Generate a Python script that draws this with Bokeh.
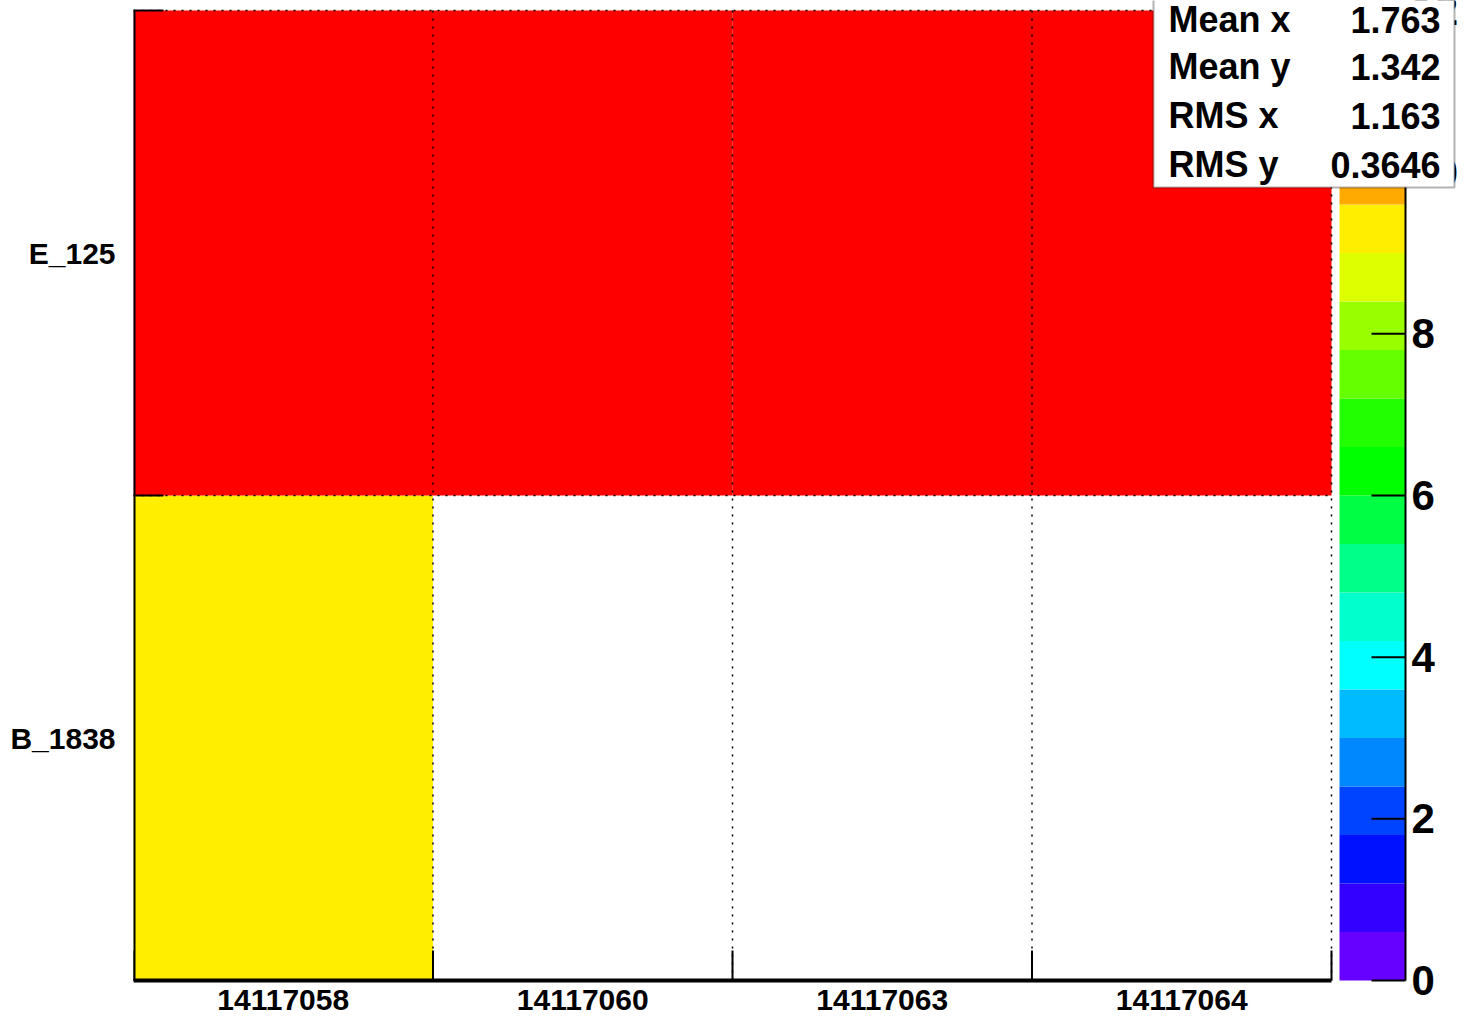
from bokeh.plotting import figure
from bokeh.models import (ColumnDataSource, LinearColorMapper, FixedTicker,
                          BoxAnnotation, Label, Range1d)
from bokeh.core.properties import value
from bokeh.embed import file_html
from bokeh.resources import INLINE

# ---------------- data ----------------
x_labels = ["14117058", "14117060", "14117063", "14117064"]
y_labels = ["B_1838", "E_125"]
counts_B_1838 = [9, 0, 0, 0]
counts_E_125 = [12, 12, 12, 12]
z_min, z_max = 0, 12
n_levels = 20
cbar_ticks = [0, 2, 4, 6, 8, 10, 12]
cbar_tick_labels = ["0", "2", "4", "6", "8", "10", "12"]
stat_names = ["Mean x", "Mean y", "RMS x", "RMS y"]
stat_values = ["1.763", "1.342", "1.163", "0.3646"]
palette = ["#6600ff", "#3300ff", "#0011ff", "#0044ff", "#0088ff", "#00bbff",
           "#00ffff", "#00ffcc", "#00ff88", "#00ff44", "#00ff00", "#22ff00",
           "#66ff00", "#99ff00", "#ddff00", "#ffee00", "#ffaa00", "#ff7700",
           "#ff4400", "#ff0000"]

# ---------------- layout (pixels) ----------------
W, H = 1459, 1020         # figure size
HL, HR = 133, 1331        # heatmap left / right
HT, HB = 10, 980          # heatmap top / bottom
CBL, CBR = 1339, 1405     # colour bar left / right
CB_TICK = 34              # colour bar tick length
AX_TICK = 30              # axis tick length
XLAB_OFF = 19             # x label centre below the axis
FONT = "Liberation Sans"

nx, ny = len(x_labels), len(y_labels)
xs = (HR - HL) / nx
ys = (HB - HT) / ny
zs = (HB - HT) / (z_max - z_min)
cbu = CBR - CBL

p = figure(frame_width=W - HL, frame_height=H,
           x_range=Range1d(0, (W - HL) / xs),
           y_range=Range1d(-(H - HB) / ys, HB / ys),
           toolbar_location=None, output_backend="svg",
           min_border_left=HL, min_border_top=0, min_border_bottom=0,
           min_border_right=0)
p.extra_y_ranges = {"z": Range1d(z_min - (H - HB) / zs, z_min + HB / zs)}
p.extra_x_ranges = {"cb": Range1d(-(CBL - HL) / cbu, (W - CBL) / cbu)}
p.outline_line_color = None
p.xgrid.visible = False
p.ygrid.visible = False
p.xaxis.visible = False

mapper = LinearColorMapper(palette=palette, low=z_min, high=z_max)

# heatmap cells
rows = [counts_B_1838, counts_E_125]
left, right, bottom, top, val = [], [], [], [], []
for j, row in enumerate(rows):
    for i, v in enumerate(row):
        if v > 0:
            left.append(i); right.append(i + 1)
            bottom.append(j); top.append(j + 1)
            val.append(v)
src = ColumnDataSource(dict(left=left, right=right, bottom=bottom, top=top, val=val))
p.quad(left="left", right="right", bottom="bottom", top="top", source=src,
       fill_color={"field": "val", "transform": mapper}, line_color=None)

# dotted grid over the cells
gx0 = list(range(1, nx + 1)) + [0] * ny
gx1 = list(range(1, nx + 1)) + [nx] * ny
gy0 = [0] * nx + list(range(1, ny + 1))
gy1 = [ny] * nx + list(range(1, ny + 1))
p.segment(x0=gx0, y0=gy0, x1=gx1, y1=gy1, line_color="black",
          line_dash="2 6", line_width=1.5)

# solid axis lines (left and bottom of the histogram)
p.segment(x0=[0, 0], y0=[0, 0], x1=[0, nx], y1=[ny, 0], line_color="black",
          line_width=4)

# x axis: ticks at bin edges, labels at bin centres
xe = list(range(nx + 1))
p.segment(x0=xe, y0=[0] * len(xe), x1=xe, y1=[AX_TICK / ys] * len(xe),
          line_color="black", line_width=2)
p.text(x=[i + 0.5 for i in range(nx)], y=[-XLAB_OFF / ys] * nx, text=x_labels,
       text_font=value(FONT), text_font_style="bold", text_font_size="30px",
       text_color="black", text_align="center", text_baseline="middle")

# y axis
yt = [j + 0.5 for j in range(ny)]
p.yaxis.ticker = FixedTicker(ticks=yt, minor_ticks=list(range(ny + 1)))
p.yaxis.major_label_overrides = {t: lab for t, lab in zip(yt, y_labels)}
ax = p.yaxis[0]
ax.axis_line_color = None
ax.major_tick_in = 0
ax.major_tick_out = 0
ax.minor_tick_in = AX_TICK
ax.minor_tick_out = 0
ax.minor_tick_line_color = "black"
ax.minor_tick_line_width = 2
ax.major_label_text_font = FONT
ax.major_label_text_font_style = "bold"
ax.major_label_text_font_size = "30px"
ax.major_label_text_color = "black"
ax.major_label_standoff = 18

# colour bar (drawn through its own ranges)
step = (z_max - z_min) / n_levels
lev_b = [z_min + k * step for k in range(n_levels)]
lev_t = [z_min + (k + 1) * step for k in range(n_levels)]
p.quad(left=0, right=1, bottom=lev_b, top=lev_t, fill_color=palette,
       line_color=None, x_range_name="cb", y_range_name="z")
p.segment(x0=[1], y0=[z_min], x1=[1], y1=[z_max], line_color="black",
          line_width=2, x_range_name="cb", y_range_name="z")
p.segment(x0=[1 - CB_TICK / cbu] * len(cbar_ticks), y0=cbar_ticks,
          x1=[1] * len(cbar_ticks), y1=cbar_ticks, line_color="black",
          line_width=2, x_range_name="cb", y_range_name="z")
p.text(x=[1 + 6 / cbu] * len(cbar_ticks), y=cbar_ticks, text=cbar_tick_labels,
       text_font=value(FONT), text_font_style="bold", text_font_size="42px",
       text_color="black", text_align="left", text_baseline="middle",
       x_range_name="cb", y_range_name="z")

# statistics box (screen units relative to the frame)
SB_L, SB_R, SB_B = 1153, 1454, 187
box = BoxAnnotation(left=SB_L - HL, right=SB_R - HL, bottom=H - SB_B, top=H + 20,
                    left_units="screen", right_units="screen",
                    bottom_units="screen", top_units="screen",
                    fill_color="white", fill_alpha=1.0,
                    line_color="black", line_width=2)
p.add_layout(box)
row_centers = [19, 66, 115, 164]
for name, v, c in zip(stat_names, stat_values, row_centers):
    p.add_layout(Label(x=SB_L + 15 - HL, y=H - c, x_units="screen", y_units="screen",
                       text=name, text_font=FONT, text_font_style="bold",
                       text_font_size="36px", text_align="left", text_color="black",
                       text_baseline="middle"))
    p.add_layout(Label(x=SB_R - 14 - HL, y=H - c, x_units="screen", y_units="screen",
                       text=v, text_font=FONT, text_font_style="bold",
                       text_font_size="36px", text_align="right", text_color="black",
                       text_baseline="middle"))

open("out.html", "w").write(file_html(p, INLINE))
